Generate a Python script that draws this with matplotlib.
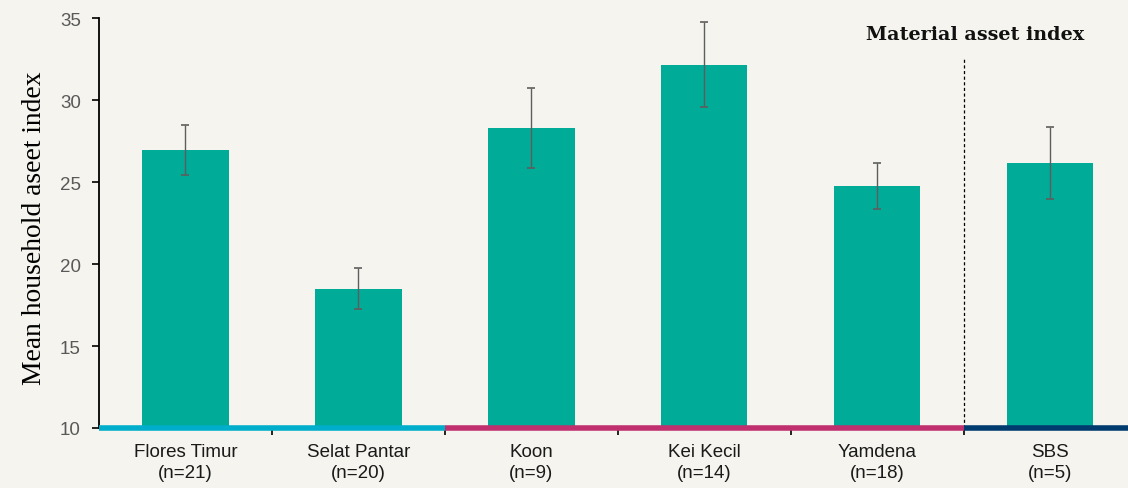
import matplotlib
matplotlib.use("Agg")
import matplotlib.pyplot as plt
import numpy as np

# Island groups and their household asset index summaries
islands = ["Flores Timur", "Selat Pantar", "Koon", "Kei Kecil", "Yamdena", "SBS"]
sample_sizes = [21, 20, 9, 14, 18, 5]
mean_index = [26.95, 18.5, 28.3, 32.15, 24.75, 26.15]
std_error = [1.5, 1.25, 2.45, 2.6, 1.38, 2.2]

# Regional groupings shown as coloured baseline segments (index ranges)
region_spans = [(0, 2), (2, 5), (5, 6)]
region_colors = ["#00AECB", "#C0306E", "#003B70"]

bg = "#F5F4EE"
bar_color = "#00AB98"

fig = plt.figure(figsize=(11.28, 4.89), dpi=100, facecolor=bg)
ax = fig.add_axes([0.0878, 0.1227, 0.9197, 0.8384])
ax.set_facecolor(bg)

x = np.arange(len(islands))
ax.bar(x, [m - 10 for m in mean_index], bottom=10, width=0.5,
       color=bar_color, zorder=2)
ax.errorbar(x, mean_index, yerr=std_error, fmt="none", ecolor="#5E5E5E",
            elinewidth=1.0, capsize=3, capthick=1.2, zorder=3)

ax.set_xlim(-0.5, len(islands) - 0.5)
ax.set_ylim(10, 35)
ax.set_yticks([10, 15, 20, 25, 30, 35])

# Coloured baseline segments per region
for (a, b), c in zip(region_spans, region_colors):
    ax.plot([a - 0.5, b - 0.5], [10, 10], color=c, lw=4,
            solid_capstyle="butt", zorder=4, clip_on=False)

# Separator before the last group
ax.axvline(4.5, ymin=0, ymax=0.902, color="black", lw=0.9,
           linestyle=(0, (2.5, 2)), zorder=1)

for s in ["top", "right", "bottom"]:
    ax.spines[s].set_visible(False)
ax.spines["left"].set_color("black")
ax.spines["left"].set_linewidth(1.3)

ax.tick_params(axis="y", direction="out", length=5, width=1.2,
               colors="black", labelcolor="#595959", labelsize=13.5, pad=8)
for lab in ax.get_yticklabels():
    lab.set_family("Liberation Sans")

# Category labels centred, ticks at boundaries
ax.set_xticks(x)
ax.set_xticklabels([f"{n}\n(n={k})" for n, k in zip(islands, sample_sizes)],
                   fontsize=13.5, color="#1A1A1A", linespacing=1.3,
                   family="Liberation Sans")
ax.tick_params(axis="x", length=0, pad=11)
ax.set_xticks(np.arange(0.5, len(islands) - 0.5, 1.0), minor=True)
ax.tick_params(axis="x", which="minor", direction="out", length=5,
               width=1.2, colors="black")

ax.set_ylabel("Mean household aseet index", family="Liberation Serif",
              fontsize=19.8, color="black")
ax.yaxis.set_label_coords(-0.050, 0.49)

ax.text(975 / 1128, 1 - 35 / 489, "Material asset index",
        transform=fig.transFigure, ha="center", va="center",
        family="DejaVu Serif", fontweight="bold", fontsize=13.8,
        color="#111111")

fig.savefig("out.png", dpi=100, facecolor=bg)
